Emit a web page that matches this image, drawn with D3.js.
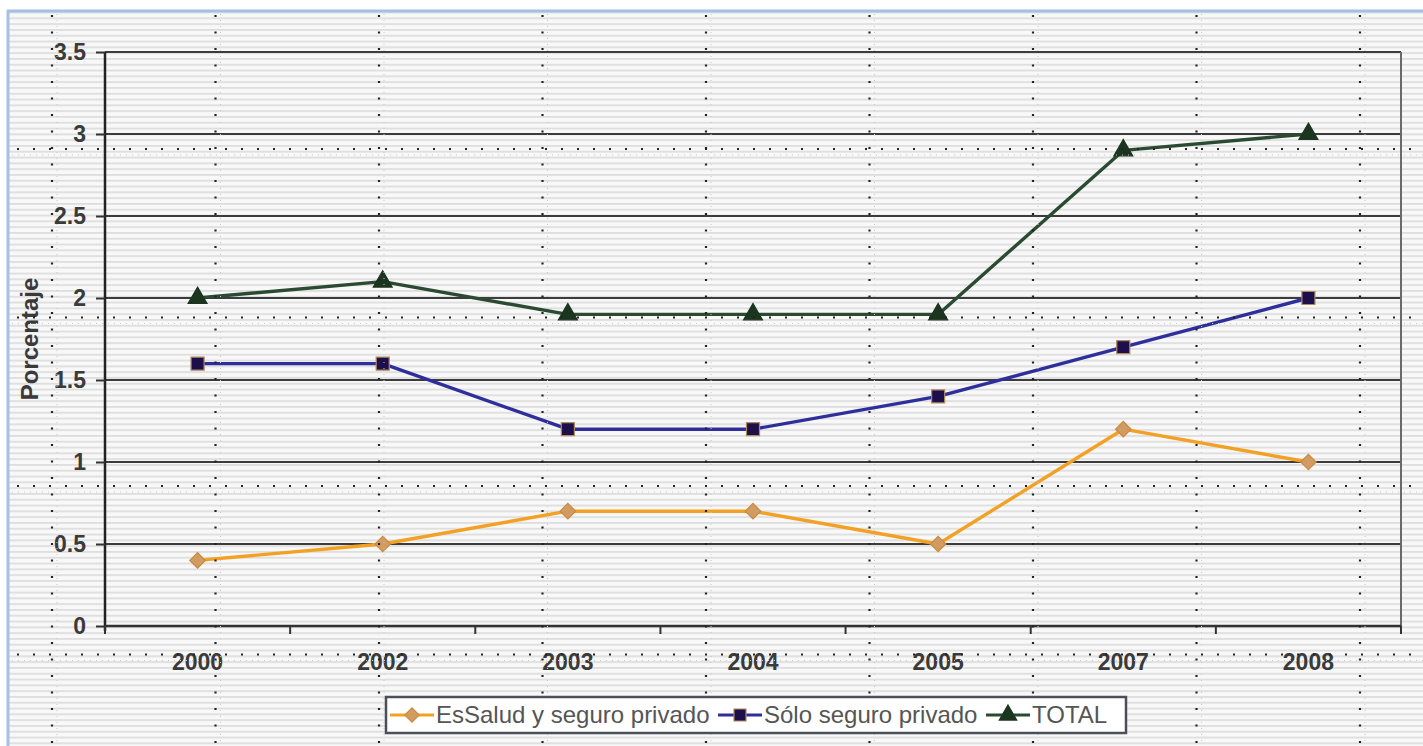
<!DOCTYPE html>
<html>
<head>
<meta charset="utf-8">
<script src="https://cdn.jsdelivr.net/npm/d3@7"></script>
<style>
  html, body { margin: 0; padding: 0; background: #ffffff; }
  svg { display: block; }
</style>
</head>
<body>
<svg id="chart" width="1423" height="746"></svg>
<script>
// Years shown on the category axis
const years = ["2000", "2002", "2003", "2004", "2005", "2007", "2008"];
// Percentages by series
const esSaludPrivado = [0.4, 0.5, 0.7, 0.7, 0.5, 1.2, 1.0];
const soloPrivado = [1.6, 1.6, 1.2, 1.2, 1.4, 1.7, 2.0];
const total = [2.0, 2.1, 1.9, 1.9, 1.9, 2.9, 3.0];
// Value axis ticks
const yTicks = [0, 0.5, 1, 1.5, 2, 2.5, 3, 3.5];
const seriesNames = ["EsSalud y seguro privado", "Sólo seguro privado", "TOTAL"];

const W = 1423, H = 746;
const svg = d3.select("#chart");
const defs = svg.append("defs");

// Light horizontal pinstripe background
const pat = defs.append("pattern")
  .attr("id", "stripes").attr("patternUnits", "userSpaceOnUse")
  .attr("width", 10).attr("height", 5.8);
pat.append("rect").attr("width", 10).attr("height", 5.8).attr("fill", "#f8f8f8");
pat.append("rect").attr("y", 0).attr("width", 10).attr("height", 1.8).attr("fill", "#dedede");

svg.append("rect").attr("x", 9).attr("y", 12).attr("width", W - 9).attr("height", H - 12)
  .attr("fill", "url(#stripes)");

// Frame edges
svg.append("line").attr("x1", 8).attr("x2", 8).attr("y1", 10).attr("y2", H)
  .attr("stroke", "#a5c0e2").attr("stroke-width", 3);
svg.append("line").attr("x1", 7).attr("x2", W).attr("y1", 11).attr("y2", 11)
  .attr("stroke", "#a5c0e2").attr("stroke-width", 3);

const plot = { left: 105, right: 1401, top: 52, bottom: 626 };
const FONT = "'Liberation Sans', Arial, sans-serif";

const x = d3.scaleBand().domain(years).range([plot.left, plot.right]).padding(0);
const y = d3.scaleLinear().domain([0, 3.5]).range([plot.bottom, plot.top]);

// Horizontal gridlines
svg.append("g").selectAll("line").data(yTicks.filter(d => d > 0)).join("line")
  .attr("x1", plot.left).attr("x2", plot.right)
  .attr("y1", d => y(d)).attr("y2", d => y(d))
  .attr("stroke", "#3c3c3c").attr("stroke-width", 2);

// Right edge of plot area
svg.append("line").attr("x1", plot.right).attr("x2", plot.right)
  .attr("y1", y(3.5)).attr("y2", y(0))
  .attr("stroke", "#6a6a6a").attr("stroke-width", 2);

// Y axis
const yAxis = d3.axisLeft(y).tickValues(yTicks).tickSize(9).tickPadding(10)
  .tickFormat(d => String(d));
const gy = svg.append("g").attr("transform", `translate(${plot.left},0)`).call(yAxis);
gy.select(".domain").attr("stroke", "#222").attr("stroke-width", 2.5)
  .attr("d", `M0,${plot.top}V${plot.bottom + 5}`);
gy.selectAll(".tick line").attr("stroke", "#333").attr("stroke-width", 2);
gy.selectAll(".tick text")
  .attr("font-family", FONT)
  .attr("font-weight", "bold").attr("font-size", 23).attr("fill", "#3a3a3a");

// X axis with ticks between categories
const gx = svg.append("g").attr("transform", `translate(0,${plot.bottom})`);
gx.append("line").attr("x1", plot.left).attr("x2", plot.right)
  .attr("stroke", "#333").attr("stroke-width", 2.5);
const bounds = years.map(d => x(d)).concat([plot.right]);
gx.selectAll("line.tk").data(bounds).join("line").attr("class", "tk")
  .attr("x1", d => d).attr("x2", d => d).attr("y1", 0).attr("y2", 8)
  .attr("stroke", "#333").attr("stroke-width", 2);
gx.selectAll("text").data(years).join("text")
  .attr("x", d => x(d) + x.bandwidth() / 2).attr("y", 44)
  .attr("text-anchor", "middle")
  .attr("font-family", FONT)
  .attr("font-weight", "bold").attr("font-size", 23).attr("fill", "#3a3a3a")
  .text(d => d);

// Y axis title
svg.append("text")
  .attr("transform", "translate(38,339) rotate(-90)")
  .attr("text-anchor", "middle")
  .attr("font-family", FONT)
  .attr("font-weight", "bold").attr("font-size", 24).attr("fill", "#3a3a3a")
  .text("Porcentaje");

// Series definitions; diamonds are squares turned 45°
const series = [
  { name: seriesNames[0], values: esSaludPrivado, line: "#f3a124", fill: "#d29b62", stroke: "#c98a40", shape: d3.symbolSquare, rot: 45, size: 120 },
  { name: seriesNames[1], values: soloPrivado, line: "#2f2f9c", fill: "#1d0f4c", stroke: "#b08a5c", shape: d3.symbolSquare, rot: 0, size: 170 },
  { name: seriesNames[2], values: total, line: "#2b4a32", fill: "#1b3520", stroke: "#1b3520", shape: d3.symbolTriangle, rot: 0, size: 155 }
];

const lineGen = d3.line()
  .x((d, i) => x(years[i]) + x.bandwidth() / 2)
  .y(d => y(d));

const gSeries = svg.append("g");
series.forEach(s => {
  gSeries.append("path").datum(s.values)
    .attr("d", lineGen).attr("fill", "none")
    .attr("stroke", s.line).attr("stroke-width", 3.4).attr("stroke-linejoin", "round");
  gSeries.append("g").selectAll("path").data(s.values).join("path")
    .attr("transform", (d, i) => `translate(${x(years[i]) + x.bandwidth() / 2},${y(d)}) rotate(${s.rot})`)
    .attr("d", d3.symbol().type(s.shape).size(s.size))
    .attr("fill", s.fill).attr("stroke", s.stroke).attr("stroke-width", 1.2);
});

// Dotted sheet-grid overlay
const vDots = d3.range(9).map(i => 52 + 163.5 * i);
const hDots = d3.range(4).map(j => 149 + 168.5 * j);
const gDots = svg.append("g");
gDots.selectAll("line.vf").data(vDots).join("line").attr("class", "vf")
  .attr("x1", d => d + 5).attr("x2", d => d + 5).attr("y1", 14).attr("y2", H)
  .attr("stroke", "#c8c8c8").attr("stroke-width", 1).attr("stroke-dasharray", "1 5");
gDots.selectAll("line.hf").data(hDots).join("line").attr("class", "hf")
  .attr("x1", 12).attr("x2", W).attr("y1", d => d + 6).attr("y2", d => d + 6)
  .attr("stroke", "#c8c8c8").attr("stroke-width", 1).attr("stroke-dasharray", "1 5");
gDots.selectAll("line.v").data(vDots).join("line").attr("class", "v")
  .attr("x1", d => d).attr("x2", d => d).attr("y1", 15).attr("y2", H)
  .attr("stroke", "#222").attr("stroke-width", 2.2).attr("stroke-dasharray", "2 14.5");
gDots.selectAll("line.h").data(hDots).join("line").attr("class", "h")
  .attr("x1", 17).attr("x2", W).attr("y1", d => d).attr("y2", d => d)
  .attr("stroke", "#222").attr("stroke-width", 2.2).attr("stroke-dasharray", "2 14");

// Legend
const lg = svg.append("g");
lg.append("rect").attr("x", 386).attr("y", 697).attr("width", 740).attr("height", 36)
  .attr("fill", "#ffffff").attr("stroke", "#4a4f5a").attr("stroke-width", 2.5);
const legendX = [390, 718, 986];
series.forEach((s, i) => {
  const lx = legendX[i], ly = 715;
  lg.append("line").attr("x1", lx).attr("x2", lx + 44).attr("y1", ly).attr("y2", ly)
    .attr("stroke", s.line).attr("stroke-width", 3.2);
  lg.append("path").attr("transform", `translate(${lx + 22},${ly}) rotate(${s.rot})`)
    .attr("d", d3.symbol().type(s.shape).size(s.size * 0.85))
    .attr("fill", s.fill).attr("stroke", s.stroke).attr("stroke-width", 1.2);
  lg.append("text").attr("x", lx + 46).attr("y", ly + 8)
    .attr("font-family", FONT)
    .attr("font-size", 24).attr("fill", "#555")
    .text(s.name);
});
</script>
</body>
</html>
